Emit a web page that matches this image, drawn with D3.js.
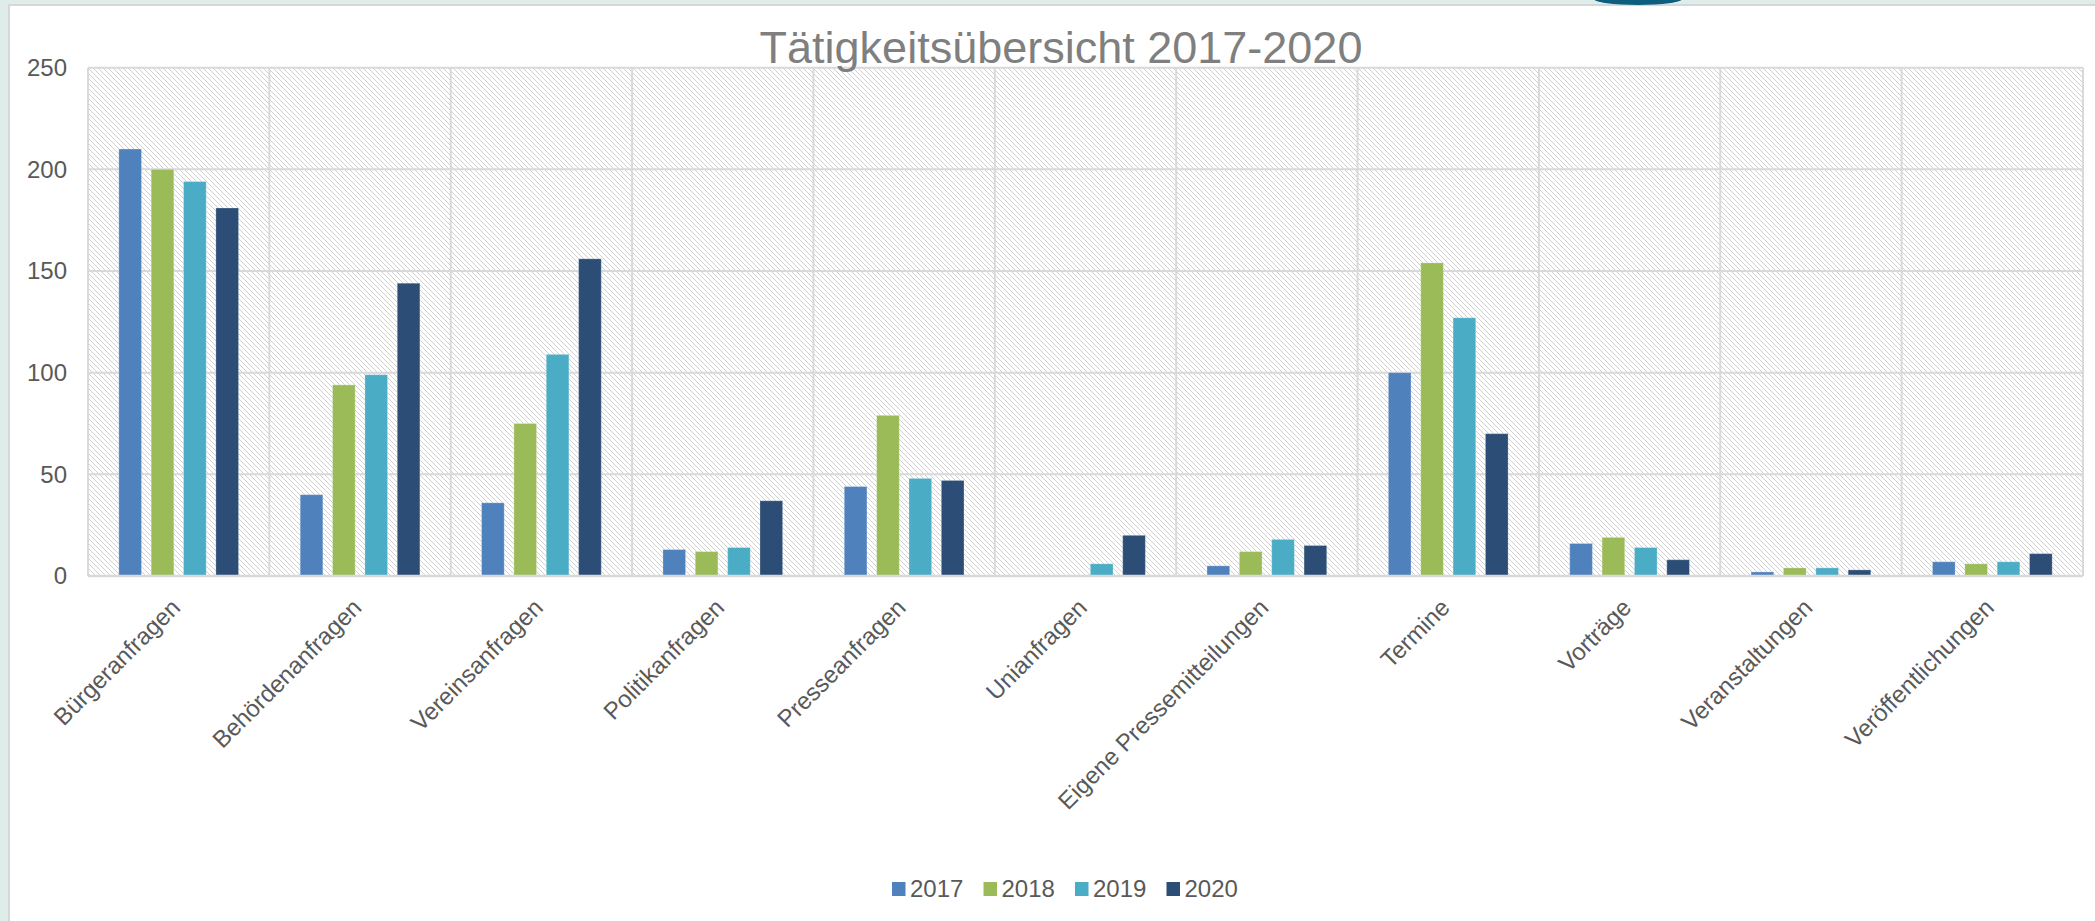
<!DOCTYPE html>
<html>
<head>
<meta charset="utf-8">
<script src="https://cdn.jsdelivr.net/npm/d3@7"></script>
<style>
  html, body { margin: 0; padding: 0; background: #deedea; overflow: hidden; }
  text { font-family: "Liberation Sans", Arial, sans-serif; }
</style>
</head>
<body>
<div id="wrapper"></div>
<script>
const categories = ["Bürgeranfragen", "Behördenanfragen", "Vereinsanfragen", "Politikanfragen",
    "Presseanfragen", "Unianfragen", "Eigene Pressemitteilungen", "Termine", "Vorträge",
    "Veranstaltungen", "Veröffentlichungen"]
const years = ["2017", "2018", "2019", "2020"]
const values2017 = [210, 40, 36, 13, 44, 0, 5, 100, 16, 2, 7]
const values2018 = [200, 94, 75, 12, 79, 0, 12, 154, 19, 4, 6]
const values2019 = [194, 99, 109, 14, 48, 6, 18, 127, 14, 4, 7]
const values2020 = [181, 144, 156, 37, 47, 20, 15, 70, 8, 3, 11]
const yTicks = [0, 50, 100, 150, 200, 250]
const colors = ["#4f81bd", "#9bbb59", "#4bacc6", "#2c4d75"]

window.addEventListener("load", paint)

function paint() {
    const dim = getDimensions()
    const series = [values2017, values2018, values2019, values2020]

    const svg = d3.select("#wrapper")
        .append("svg")
            .attr("width", dim.width)
            .attr("height", dim.height)
            .style("display", "block")

    // page chrome: white card on a pale green page
    svg.append("rect")
        .attr("x", 9).attr("y", 5)
        .attr("width", dim.width).attr("height", dim.height)
        .attr("fill", "#ffffff").attr("stroke", "#d4d8d7").attr("stroke-width", 2)
    svg.append("ellipse")
        .attr("cx", 1638).attr("cy", -1).attr("rx", 44).attr("ry", 6)
        .attr("fill", "#0d5f80")

    // hatch for plot background
    const s = 5
    const pat = svg.append("defs").append("pattern")
        .attr("id", "hatch").attr("patternUnits", "userSpaceOnUse")
        .attr("width", s).attr("height", s)
    pat.append("rect").attr("width", s).attr("height", s).attr("fill", "#ffffff")
    pat.append("path")
        .attr("d", `M0,0L${s},${s}M${s-1},-1L${s+1},1M-1,${s-1}L1,${s+1}`)
        .attr("stroke", "#d0d0d0").attr("stroke-width", 1)
        .attr("shape-rendering", "crispEdges")

    const x0 = d3.scaleBand().domain(categories)
        .range([dim.margin.left, dim.width - dim.margin.right])
        .padding(0)
    const groupW = x0.bandwidth() * 0.66
    const x1 = d3.scaleBand().domain(years)
        .range([0, groupW]).paddingInner(0.3).paddingOuter(0)
    const y = d3.scaleLinear().domain([0, 250])
        .range([dim.height - dim.margin.bottom, dim.margin.top])

    const plotLeft = dim.margin.left
    const plotRight = dim.width - dim.margin.right

    svg.append("rect")
        .attr("x", plotLeft).attr("y", y(250))
        .attr("width", plotRight - plotLeft).attr("height", y(0) - y(250))
        .attr("fill", "url(#hatch)")

    // grid
    svg.append("g")
        .selectAll("line").data(yTicks).join("line")
            .attr("x1", plotLeft).attr("x2", plotRight)
            .attr("y1", d => y(d)).attr("y2", d => y(d))
            .attr("stroke", "#d9d9d9").attr("stroke-width", 2)
    svg.append("g")
        .selectAll("line").data(categories.concat(["_end"])).join("line")
            .attr("x1", (d, i) => plotLeft + i * x0.step())
            .attr("x2", (d, i) => plotLeft + i * x0.step())
            .attr("y1", y(0)).attr("y2", y(250))
            .attr("stroke", "#d9d9d9").attr("stroke-width", 2)

    // bars
    const groups = svg.append("g")
        .selectAll("g").data(categories).join("g")
            .attr("transform", d => `translate(${x0(d) + (x0.bandwidth() - groupW) / 2},0)`)
    groups.selectAll("rect")
        .data((d, i) => years.map((yr, k) => ({ yr, k, v: series[k][i] })))
        .join("rect")
            .attr("x", d => x1(d.yr))
            .attr("width", x1.bandwidth())
            .attr("y", d => y(d.v))
            .attr("height", d => y(0) - y(d.v))
            .attr("fill", d => colors[d.k])
            .attr("stroke", "#ffffff").attr("stroke-opacity", 0.25).attr("stroke-width", 1)

    // bottom axis line
    svg.append("line")
        .attr("x1", plotLeft).attr("x2", plotRight)
        .attr("y1", y(0)).attr("y2", y(0))
        .attr("stroke", "#d9d9d9").attr("stroke-width", 2.5)

    // y labels
    svg.append("g")
        .selectAll("text").data(yTicks).join("text")
            .attr("x", 67).attr("y", d => y(d))
            .attr("dy", "0.35em")
            .attr("text-anchor", "end")
            .attr("font-size", 24).attr("fill", "#595959")
            .text(d => d)

    // x labels
    svg.append("g")
        .selectAll("text").data(categories).join("text")
            .attr("transform", d => `translate(${x0(d) + x0.bandwidth() / 2 + 3},${y(0) + 33}) rotate(-45)`)
            .attr("text-anchor", "end")
            .attr("font-size", 24).attr("fill", "#595959")
            .text(d => d)

    // title
    svg.append("text")
        .attr("x", 1061).attr("y", 63)
        .attr("text-anchor", "middle")
        .attr("font-size", 45).attr("fill", "#7f7f7f")
        .text("Tätigkeitsübersicht 2017-2020")

    // legend
    const legend = svg.append("g")
        .selectAll("g").data(years).join("g")
            .attr("transform", (d, i) => `translate(${892 + i * 91.5},0)`)
    legend.append("rect")
        .attr("x", 0).attr("y", 882).attr("width", 13.5).attr("height", 14)
        .attr("fill", (d, i) => colors[i])
    legend.append("text")
        .attr("x", 18).attr("y", 897)
        .attr("font-size", 24).attr("fill", "#595959")
        .text(d => d)
}

function getDimensions() {
    return {
        width: 2095,
        height: 921,
        margin: { top: 67.7, right: 12, bottom: 345, left: 88 },
    }
}
</script>
</body>
</html>
